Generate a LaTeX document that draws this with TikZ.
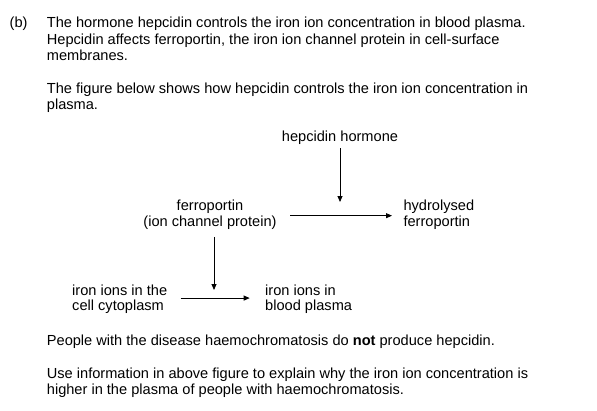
\documentclass[tikz,border=0pt]{standalone}
\usepackage{fontspec}
\setmainfont{Liberation Sans}
\usetikzlibrary{arrows.meta, positioning, calc}

\begin{document}
\begin{tikzpicture}[x=1pt, y=-1pt,
    txt/.style={anchor=base west, align=left, inner sep=0pt, font=\fontsize{14.6}{16.5}\selectfont},
    lbl/.style={align=left, font=\fontsize{14.6}{15.7}\selectfont},
    arr/.style={line width=0.8pt, -{Triangle[length=6pt, width=5pt]}}]
    \useasboundingbox (0,0) rectangle (597,410);

    % Question text (anchors sit on the last line)
    \node[txt] (part) at (9.5, 27.7) {(b)};
    \node[txt] (intro) at (46.7, 60.5) {The hormone hepcidin controls the iron ion concentration in blood plasma.\\
        Hepcidin affects ferroportin, the iron ion channel protein in cell-surface\\
        membranes.};
    \node[txt] (fig) at (46.7, 109.5) {The figure below shows how hepcidin controls the iron ion concentration in\\
        plasma.};

    % Figure
    \node[lbl, anchor=base] (hep) at (340, 141.7) {hepcidin hormone};
    \node[lbl, anchor=base, align=center] (ferro) at (210, 226.3) {ferroportin\\(ion channel protein)};
    \node[lbl, anchor=base west] (hydro) at (400, 226.3) {hydrolysed\\ferroportin};
    \node[lbl, anchor=base west] (cyto) at (68.7, 310.7) {iron ions in the\\cell cytoplasm};
    \node[lbl, anchor=base west] (blood) at (261.7, 310.7) {iron ions in\\blood plasma};
    \coordinate (tipA) at (340, 202);
    \coordinate (tipB) at (214, 290);

    \draw[arr] (hep.south) -- (tipA);
    \draw[arr, shorten <=10pt, shorten >=8pt] ([yshift=-1pt]ferro.east) -- ([yshift=-1pt]hydro.west |- ferro.east);
    \draw[arr, shorten <=4pt] (ferro.south -| tipB) -- (tipB);
    \draw[arr, shorten <=10pt, shorten >=12pt] ([yshift=1pt]cyto.east) -- ([yshift=1pt]blood.west |- cyto.east);

    % Question text
    \node[txt] (note) at (46.7, 345.7) {People with the disease haemochromatosis do \textbf{not} produce hepcidin.};
    \node[txt] (task) at (46.7, 394.5) {Use information in above figure to explain why the iron ion concentration is\\
        higher in the plasma of people with haemochromatosis.};
\end{tikzpicture}
\end{document}
